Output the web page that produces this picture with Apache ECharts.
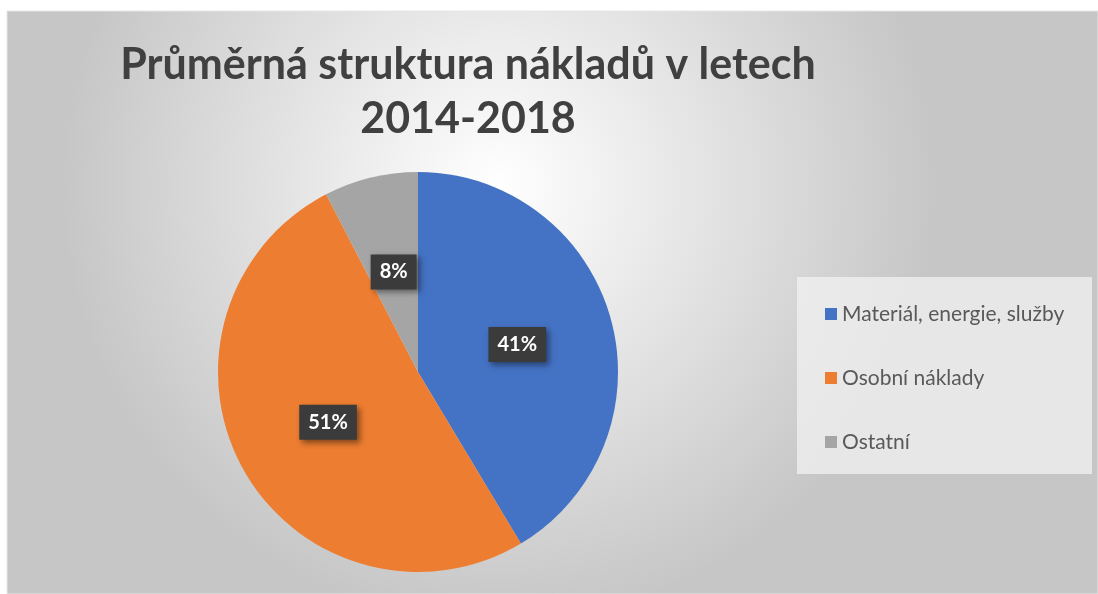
<!DOCTYPE html>
<html>
<head>
<meta charset="utf-8">
<script src="https://cdn.jsdelivr.net/npm/echarts@6/dist/echarts.min.js"></script>
<style>
html,body{margin:0;padding:0;background:#ffffff;}
#chart{width:1098px;height:594px;}
</style>
</head>
<body>
<div id="chart"></div>
<script>
const titleText = 'Průměrná struktura nákladů v letech\n2014-2018';
const categories = ['Materiál, energie, služby', 'Osobní náklady', 'Ostatní'];
const values = [41.4, 51.0, 7.6];
const colors = ['#4472C4', '#ED7D31', '#A5A5A5'];

const chart = echarts.init(document.getElementById('chart'), null, {renderer: 'canvas'});

const option = {
  animation: false,
  color: colors,
  graphic: [
    {
      type: 'rect', z: -10, silent: true,
      shape: {x: 7, y: 11, width: 1091, height: 583},
      style: {
        fill: {
          type: 'radial', x: 0.45, y: 0.3, r: 0.75,
          colorStops: [
            {offset: 0, color: '#ffffff'},
            {offset: 1, color: '#c6c6c6'}
          ]
        },
        stroke: '#e6e6e6', lineWidth: 1
      }
    },
    {
      type: 'rect', z: -5, silent: true,
      shape: {x: 797, y: 277, width: 295, height: 197},
      style: {fill: 'rgba(242,242,242,0.75)'}
    }
  ],
  title: {
    text: titleText,
    left: 468,
    top: 38,
    padding: 0,
    textAlign: 'center',
    textStyle: {
      fontFamily: 'Lato',
      fontWeight: 'bold',
      fontSize: 43,
      lineHeight: 54,
      color: '#404040'
    }
  },
  legend: {
    orient: 'vertical',
    left: 825,
    top: 303,
    padding: 0,
    itemWidth: 12,
    itemHeight: 12,
    itemGap: 42,
    icon: 'rect',
    data: categories,
    textStyle: {
      fontFamily: 'Lato',
      fontSize: 21,
      lineHeight: 22,
      color: '#595959'
    }
  },
  series: [{
    type: 'pie',
    center: [418, 372],
    radius: [0, 200],
    startAngle: 90,
    clockwise: true,
    data: categories.map((c, i) => ({name: c, value: values[i]})),
    itemStyle: {borderWidth: 0},
    label: {
      show: true,
      position: 'inside',
      formatter: p => Math.round(p.percent) + '%',
      fontFamily: 'Lato',
      fontWeight: 'bold',
      fontSize: 20,
      color: '#ffffff',
      backgroundColor: '#3b3b3b',
      padding: [8, 9, 7, 9],
      shadowColor: 'rgba(0,0,0,0.45)',
      shadowBlur: 6,
      shadowOffsetX: 3,
      shadowOffsetY: 3
    },
    labelLine: {show: false},
    emphasis: {disabled: true}
  }]
};
chart.setOption(option);
</script>
</body>
</html>
